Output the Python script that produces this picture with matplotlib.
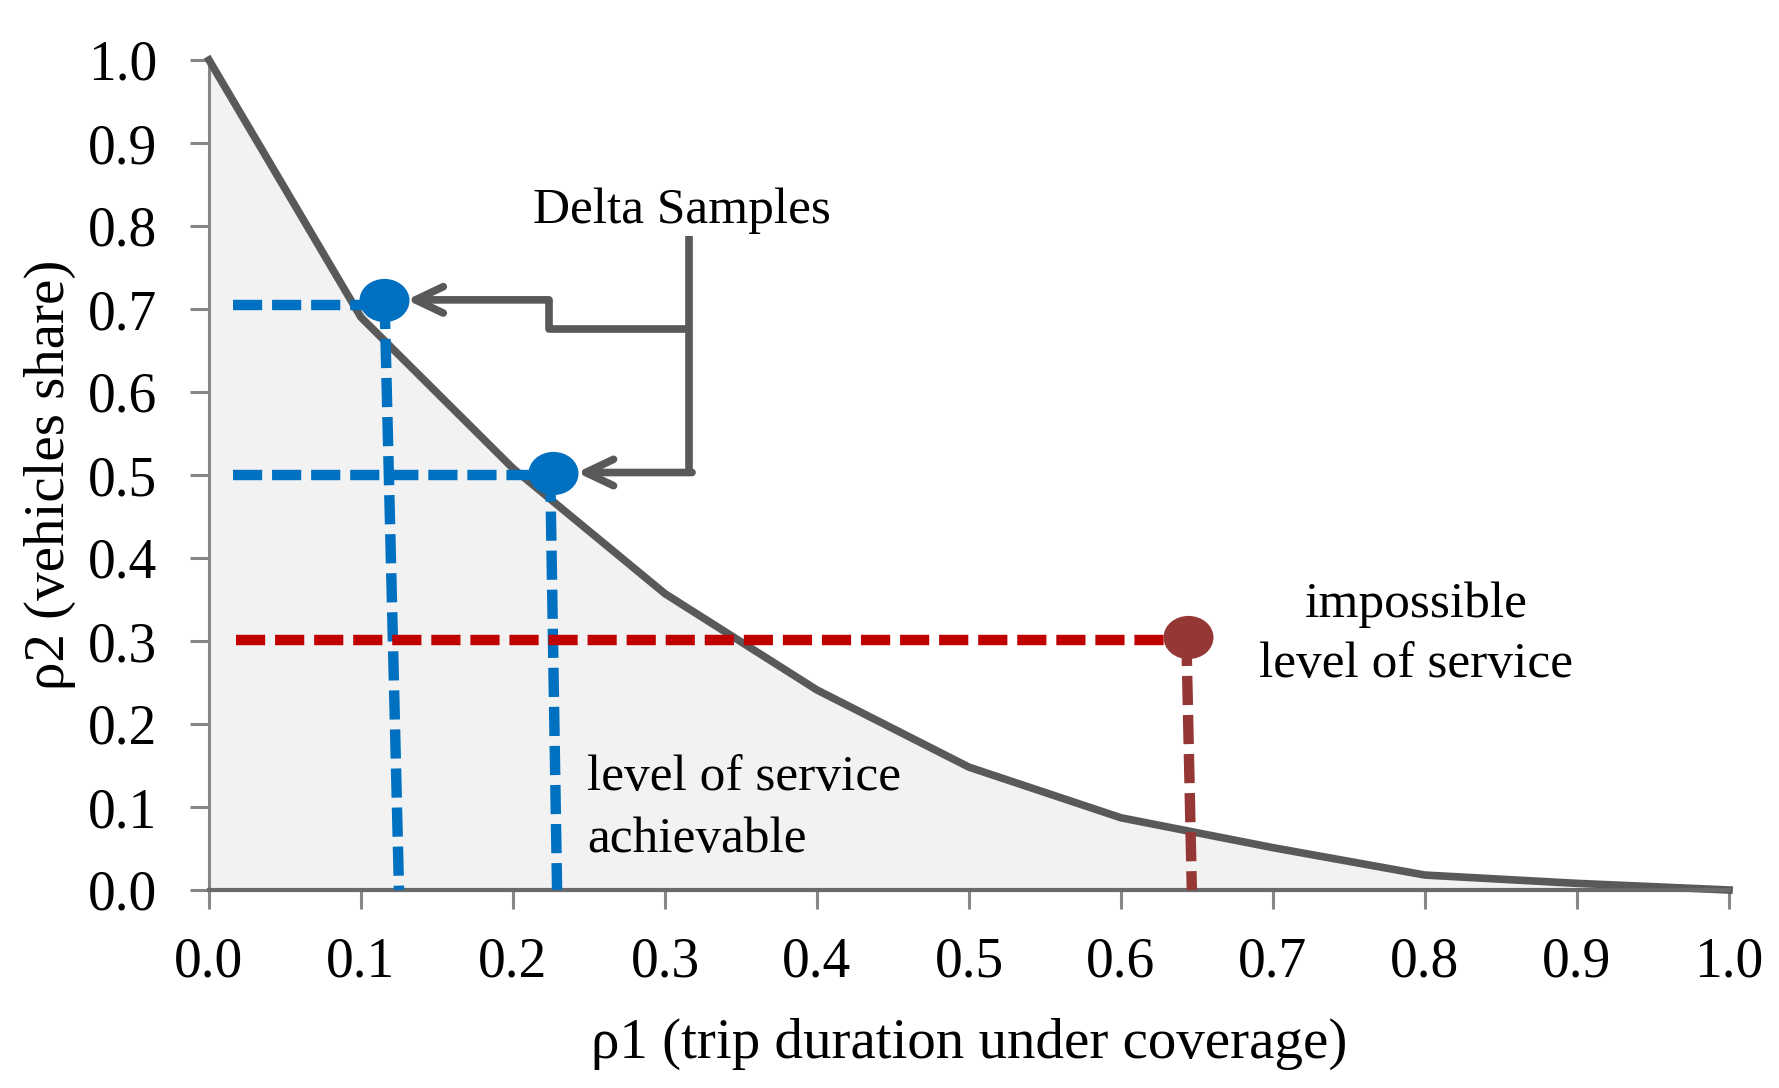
import matplotlib
matplotlib.use("Agg")
import matplotlib.pyplot as plt
from matplotlib.path import Path
from matplotlib.transforms import Affine2D

# ---- data ----
rho1 = [0.0, 0.1, 0.2, 0.3, 0.4, 0.5, 0.6, 0.7, 0.8, 0.9, 1.0]
rho2 = [1.0, 0.69, 0.508, 0.357, 0.241, 0.148, 0.087, 0.051, 0.018, 0.008, 0.0]

delta_x = [0.115, 0.226]
delta_y = [0.711, 0.503]
imposs_x = [0.644]
imposs_y = [0.305]

# guide lines (start/end points)
blue_h = [([0.016, 0.115], [0.705, 0.705]), ([0.016, 0.226], [0.500, 0.500])]
blue_v = [([0.1155, 0.125], [0.711, 0.0]), ([0.2245, 0.229], [0.503, 0.0])]
red_h = ([0.0176, 0.644], [0.301, 0.301])
red_v = ([0.643, 0.6466], [0.305, 0.0])

# connector for "Delta Samples"
trunk_x = 0.3158
trunk_y = [0.788, 0.503]
upper_branch_x = [0.3158, 0.2237, 0.2237, 0.130]
upper_branch_y = [0.676, 0.676, 0.711, 0.711]
lower_tip_x = 0.242

xticks = [0.0, 0.1, 0.2, 0.3, 0.4, 0.5, 0.6, 0.7, 0.8, 0.9, 1.0]
yticks = [0.0, 0.1, 0.2, 0.3, 0.4, 0.5, 0.6, 0.7, 0.8, 0.9, 1.0]
tick_labels = [f"{v:.1f}" for v in xticks]

FONT = "Liberation Serif"
plt.rcParams['font.family'] = [FONT, 'DejaVu Serif']

GRAY = '#595959'
AXGRAY = '#868686'
BLUE = '#0070C0'
RED = '#C00000'
DRED = '#953735'

fig = plt.figure(figsize=(17.79, 10.88), dpi=100)
ax = fig.add_axes([209/1779, 1-890/1088, 1520/1779, 830/1088])

ax.fill_between(rho1, rho2, 0, color='#F2F2F2', lw=0, zorder=1)
ax.plot(rho1, rho2, color=GRAY, lw=5.5, zorder=3, clip_on=False, solid_joinstyle='miter')
ax.plot([rho1[0], rho1[-1]], [0, 0], color='#6a6a6a', lw=3, zorder=3, clip_on=False)

dash = (2.8, 0.95)
for xs, ys in blue_h + blue_v:
    ax.plot(xs, ys, color=BLUE, lw=7.5, dashes=dash, zorder=4, clip_on=False,
            solid_capstyle='butt', dash_capstyle='butt')
ax.plot(*red_h, color=RED, lw=7.5, dashes=dash, zorder=4, dash_capstyle='butt')
ax.plot(*red_v, color=DRED, lw=7.5, dashes=dash, zorder=4, dash_capstyle='butt', clip_on=False)

ell = Path(Affine2D().scale(1.0, 0.86).transform(Path.unit_circle().vertices),
           Path.unit_circle().codes)
ax.plot(delta_x, delta_y, ls='none', marker=ell, ms=35, color=BLUE, mec=BLUE, zorder=6)
ax.plot(imposs_x, imposs_y, ls='none', marker=ell, ms=35, color=DRED, mec=DRED, zorder=6)

# connector
ax.plot([trunk_x, trunk_x], trunk_y, color=GRAY, lw=5.5, zorder=5,
        solid_capstyle='butt', solid_joinstyle='miter')
ax.plot(upper_branch_x[:-1], upper_branch_y[:-1], color=GRAY, lw=5.5, zorder=5,
        solid_joinstyle='round', solid_capstyle='butt')
arrow_kw = dict(arrowstyle='->,head_length=2.0,head_width=0.95', lw=5.5, color=GRAY,
                shrinkA=0, shrinkB=0, capstyle='round', joinstyle='round')
ax.annotate('', xy=(upper_branch_x[-1], upper_branch_y[-1]),
            xytext=(upper_branch_x[-2], upper_branch_y[-2]), arrowprops=arrow_kw, zorder=5)
ax.annotate('', xy=(lower_tip_x, trunk_y[1]), xytext=(trunk_x + 0.002, trunk_y[1]),
            arrowprops=arrow_kw, zorder=5)

# text
TS = 37
ax.text(0.311, 0.804, "Delta Samples", fontsize=TS, ha='center', va='baseline', zorder=7)
ax.text(0.249, 0.120, "level of service", fontsize=TS, ha='left', va='baseline', zorder=7)
ax.text(0.249, 0.046, "achievable", fontsize=TS, ha='left', va='baseline', zorder=7)
ax.text(0.794, 0.329, "impossible", fontsize=TS, ha='center', va='baseline', zorder=7)
ax.text(0.794, 0.257, "level of service", fontsize=TS, ha='center', va='baseline', zorder=7)

ax.set_xlim(0, 1)
ax.set_ylim(0, 1)
ax.set_xticks(xticks)
ax.set_xticklabels(tick_labels)
ax.set_yticks(yticks)
ax.set_yticklabels(tick_labels)
ax.tick_params(axis='both', direction='out', length=13.5, width=2.2, color=AXGRAY,
               labelsize=40)
ax.tick_params(axis='x', pad=20)
ax.tick_params(axis='y', pad=24)
for s in ['top', 'right']:
    ax.spines[s].set_visible(False)
ax.spines['left'].set_color(AXGRAY)
ax.spines['left'].set_linewidth(2.2)
ax.spines['bottom'].set_color(AXGRAY)
ax.spines['bottom'].set_linewidth(2.2)

ax.set_xlabel("ρ1 (trip duration under coverage)", fontsize=41)
ax.xaxis.set_label_coords(0.5, -0.186)
ax.xaxis.label.set_va('center')
ax.set_ylabel("ρ2 (vehicles share)", fontsize=41)
ax.yaxis.set_label_coords(-0.105, 0.5)
ax.yaxis.label.set_va('center')

fig.savefig("out.png", dpi=100)
